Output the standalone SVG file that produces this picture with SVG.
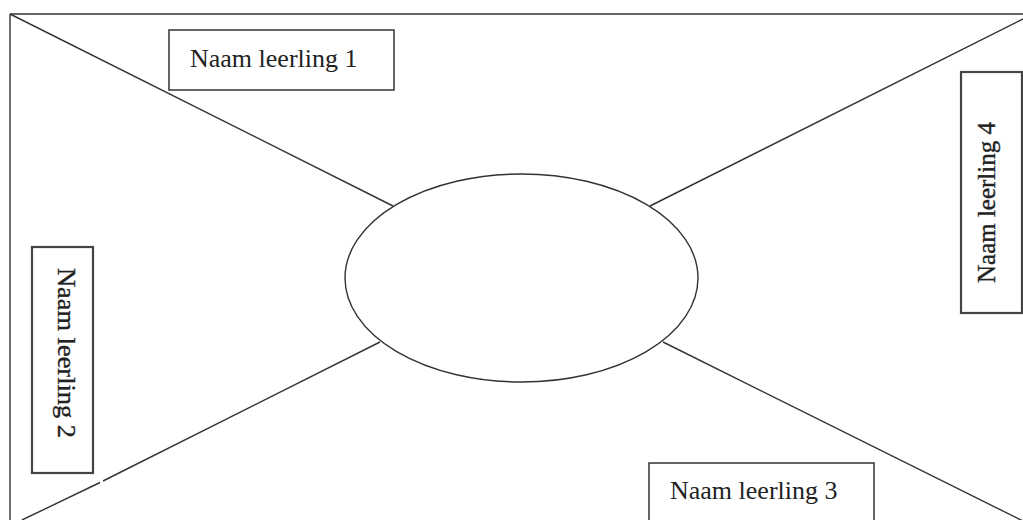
<svg xmlns="http://www.w3.org/2000/svg" width="1023" height="520" viewBox="0 0 1023 520">
<style>
.ln{stroke:#333;stroke-width:1.4;fill:none}
.box{fill:#fff;stroke:#333;stroke-width:1.5}
.tbox{fill:#fff;stroke:#444;stroke-width:2.2}
.t{font-family:"Liberation Serif","Times New Roman",serif;font-size:26px;fill:#222}
.tv{font-family:"Liberation Serif","Times New Roman",serif;font-size:25px;fill:#222;stroke:#222;stroke-width:0.35}
</style>
<rect width="1023" height="520" fill="#fff"/>
<g id="connectors">
<line class="ln" x1="10" y1="14" x2="1023" y2="14"/>
<line class="ln" x1="10" y1="14" x2="10" y2="520"/>
<line class="ln" x1="10" y1="14" x2="393" y2="206"/>
<line class="ln" x1="650" y1="206" x2="1023" y2="19"/>
<line class="ln" x1="380" y1="342" x2="103" y2="481"/>
<line class="ln" x1="100" y1="482.5" x2="22" y2="520"/>
<line class="ln" x1="663" y1="342" x2="1023" y2="521"/>
</g>
<g id="center">
<ellipse class="ln" cx="521.5" cy="278" rx="176.5" ry="104" fill="#fff"/>
</g>
<g id="n1">
<rect class="box" x="169" y="30" width="225" height="60"/>
<text class="t" x="190" y="67">Naam leerling 1</text>
</g>
<g id="n2">
<rect class="tbox" x="32" y="247" width="61" height="226"/>
<text class="tv" transform="translate(58,268) rotate(90)" textLength="170" lengthAdjust="spacingAndGlyphs">Naam leerling 2</text>
</g>
<g id="n3">
<rect class="box" x="649" y="463" width="225" height="70"/>
<text class="t" x="670" y="499">Naam leerling 3</text>
</g>
<g id="n4">
<rect class="tbox" x="961" y="72" width="61" height="241"/>
<text class="tv" transform="translate(995,283) rotate(-90)" textLength="161" lengthAdjust="spacingAndGlyphs">Naam leerling 4</text>
</g>
</svg>
